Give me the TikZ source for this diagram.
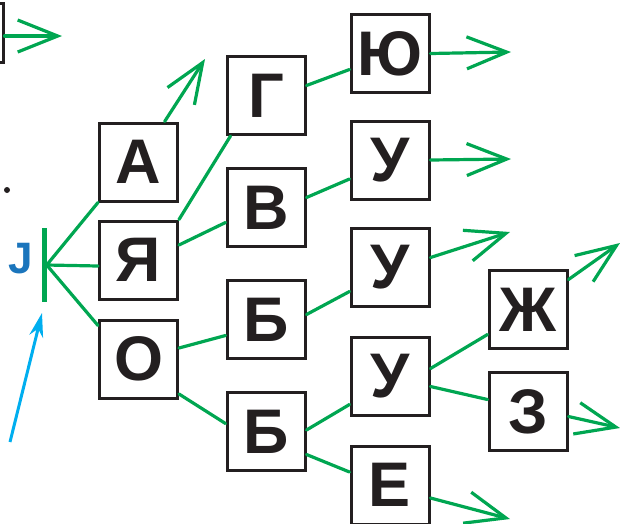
\documentclass[tikz,border=0pt]{standalone}
\usepackage{fontspec}
\setmainfont{Liberation Sans}
\usetikzlibrary{arrows.meta}
\definecolor{linkgreen}{RGB}{0,166,81}
\definecolor{boxink}{HTML}{231F20}
\definecolor{markblue}{HTML}{1B75BC}
\definecolor{pointblue}{HTML}{00AEEF}
\begin{document}
\begin{tikzpicture}[x=1pt,y=-1pt,
  letterbox/.style={draw=boxink,line width=3pt,fill=white,minimum size=78pt,
    inner sep=0pt,font=\fontsize{63}{63}\selectfont\bfseries,text=boxink},
  link/.style={draw=linkgreen,line width=3.2pt,line cap=round},
  leadout/.style={link,-{Straight Barb[length=40pt,width=32pt]}}]
\useasboundingbox (0,0) rectangle (620,523);

% letter boxes, column by column
\node[letterbox] (a)  at (138.5,162)   {А};
\node[letterbox] (ya) at (138.5,260)   {Я};
\node[letterbox] (o)  at (138.5,359)   {О};
\node[letterbox] (g)  at (266,95.5)    {Г};
\node[letterbox] (v)  at (266,207.5)   {В};
\node[letterbox] (b1) at (266,319.5)   {Б};
\node[letterbox] (b2) at (266,431.5)   {Б};
\node[letterbox] (yu) at (390,53.5)    {Ю};
\node[letterbox] (u1) at (390,160)     {У};
\node[letterbox] (u2) at (390,267.5)   {У};
\node[letterbox] (u3) at (390,376.5)   {У};
\node[letterbox] (e)  at (390,485)     {Е};
\node[letterbox] (zh) at (528,309.5)   {Ж};
\node[letterbox] (z)  at (528,411.5)   {З};

% box running off the left edge
\node[draw=boxink,line width=3pt,minimum width=80pt,minimum height=59pt,inner sep=0pt]
  (prev) at (-37,32.5) {};

% starting bar with its label
\node[fill=linkgreen,minimum width=5pt,minimum height=74pt,inner sep=0pt] (bar) at (44,265) {};
\node[text=markblue,font=\fontsize{44}{44}\selectfont\bfseries] (jmark) at (21,259) {J};
\node[circle,fill=boxink,minimum size=6pt,inner sep=0pt] (dot) at (7,190) {};

% free ends of the outgoing arrows
\coordinate (tPrev) at (62,36);
\coordinate (tA)  at (205,59);
\coordinate (tYu) at (511,52);
\coordinate (tU1) at (511,159);
\coordinate (tU2) at (510,232);
\coordinate (tZh) at (620,243);
\coordinate (tZ)  at (620,428);
\coordinate (tE)  at (510,519);
\coordinate (ptail) at (10,442);
\coordinate (ptip)  at (42,313);

% branches from the bar
\draw[link] (bar.east) -- (a.south west);
\draw[link] (bar.east) -- ([yshift=-6pt]ya.west);
\draw[link] (bar.east) -- ([yshift=-7pt]o.north west);

% links between boxes
\draw[link] (ya.north east) -- ([xshift=5pt]g.south west);
\draw[link] ([yshift=15pt]ya.east) -- ([yshift=-15pt]v.west);
\draw[link] ([yshift=11pt]o.east) -- ([yshift=-16pt]b1.west);
\draw[link] ([yshift=-35pt]o.east) -- ([yshift=8pt]b2.west);
\draw[link] ([yshift=10pt]g.east) -- ([yshift=-16pt]yu.west);
\draw[link] ([yshift=10pt]v.east) -- ([yshift=-19pt]u1.west);
\draw[link] ([yshift=5pt]b1.east) -- ([yshift=-24pt]u2.west);
\draw[link] ([yshift=1.5pt]b2.east) -- ([yshift=-28pt]u3.west);
\draw[link] ([yshift=-23pt]b2.east) -- ([yshift=13pt]e.west);
\draw[link] ([yshift=8pt]u3.east) -- ([yshift=-25pt]zh.west);
\draw[link] ([yshift=-10pt]u3.east) -- ([yshift=12pt]z.west);

% outgoing arrows
\draw[leadout] ([yshift=-3.5pt]prev.east) -- (tPrev);
\draw[leadout] (a) -- (tA);
\draw[leadout] (yu.east) -- (tYu);
\draw[leadout] (u1.east) -- (tU1);
\draw[leadout] ([yshift=10pt]u2.east) -- (tU2);
\draw[leadout] ([yshift=30pt]zh.east) -- (tZh);
\draw[leadout] ([yshift=-5pt]z.east) -- (tZ);
\draw[leadout] ([yshift=-13pt]e.east) -- (tE);

% pointer to the bar
\draw[pointblue,line width=3pt,-{Stealth[length=24pt,width=14pt]}] (ptail) -- (ptip);
\end{tikzpicture}
\end{document}
